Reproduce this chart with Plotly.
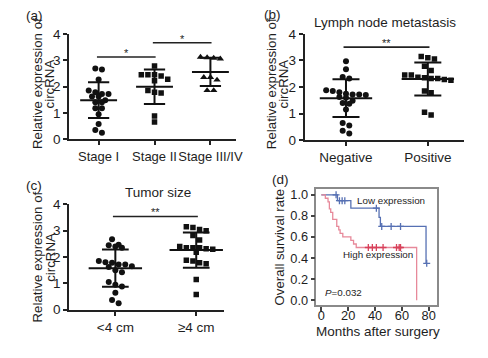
import numpy as np
import plotly.graph_objects as go

# ---------------- data ----------------
# (a) circRNA expression by clinical stage
stage_labels = ["Stage I", "Stage II", "Stage III/IV"]
stage_i = [2.65, 2.68, 2.27, 1.85, 1.78, 1.72, 1.72, 1.62, 1.62, 1.48, 1.40, 1.40,
           1.18, 1.18, 0.95, 0.58, 0.35, 0.25]
stage_ii = [2.78, 2.45, 2.40, 2.45, 2.45, 2.22, 2.28, 1.78, 1.75, 1.85, 0.88, 0.65]
stage_iii_iv = [3.10, 3.05, 3.08, 3.12, 2.35, 2.35, 2.25, 1.85, 1.85]
sig_a = [(0, 1, 3.12, "*"), (1, 2, 3.66, "*")]

# (b) lymph node metastasis
lymph_labels = ["Negative", "Positive"]
lymph_neg = [2.97, 2.67, 2.32, 2.38, 1.85, 1.75, 1.72, 1.70, 1.72, 1.80, 1.88, 1.60,
             1.62, 1.40, 1.37, 1.48, 1.15, 0.65, 0.55, 0.35, 0.25]
lymph_pos = [3.15, 3.05, 3.10, 2.78, 2.62, 2.45, 2.35, 2.32, 2.25, 2.28, 2.32, 2.37,
             2.45, 1.85, 1.78, 0.95, 1.05]
sig_b = [(0, 1, 3.5, "**")]

# (c) tumor size
size_labels = ["<4 cm", "\u22654 cm"]
size_small = [2.68, 2.47, 2.40, 2.35, 2.45, 1.80, 1.72, 1.65, 1.62, 1.72, 1.78, 1.85,
              1.42, 1.50, 0.95, 1.05, 0.88, 0.65, 0.37, 0.25]
size_large = [3.15, 3.05, 3.00, 3.12, 2.82, 2.65, 2.40, 2.35, 2.30, 2.32, 2.35, 2.35,
              2.18, 1.85, 1.75, 1.78, 1.88, 1.15, 0.58]
sig_c = [(0, 1, 3.54, "**")]

# (d) Kaplan-Meier overall survival
low_times = [0, 12, 22, 43, 44, 78]
low_surv = [1.0, 0.944, 0.873, 0.786, 0.70, 0.35]
low_censor = [11, 13.5, 15.5, 17.5, 41, 45, 52, 59, 78.5]
high_times = [0, 3, 5, 6, 7, 8.5, 11.5, 13, 14, 16, 22, 24, 26, 71]
high_surv = [1.0, 0.967, 0.933, 0.867, 0.833, 0.767, 0.70, 0.667, 0.633, 0.60,
             0.567, 0.533, 0.50, 0.0]
high_censor = [35, 38, 41, 46, 56, 58, 59]
p_text = "<i>P</i>=0.032"

# ---------------- styling ----------------
W, H = 488, 358
FONT = "Liberation Sans, Arial, sans-serif"
TXT = "#1e1e1e"
INK = "#111111"
BLUE = "#5670b3"
RED_LINE = "#e7899a"
RED_MARK = "#d8405a"


def px_x(p):
    return p / W


def px_y(p):
    return 1 - p / H


panels = {
    "a": dict(dx=(70, 239), dy=(28, 138), rx=(-0.53, 2.45), mean_hw=0.33, cap_hw=0.19),
    "b": dict(dx=(309, 471), dy=(28, 139), rx=(-0.506, 1.445), mean_hw=0.32, cap_hw=0.165),
    "c": dict(dx=(70, 227), dy=(206, 316), rx=(-0.573, 1.34), mean_hw=0.33, cap_hw=0.165),
}


def swarm(values, center, step, thr=0.21):
    vals = np.sort(np.asarray(values, dtype=float))[::-1]
    xs, ys = [], []
    i = 0
    while i < len(vals):
        j = i
        while j < len(vals) and vals[i] - vals[j] < thr:
            j += 1
        n = j - i
        for k in range(n):
            xs.append(center + (k - (n - 1) / 2) * step)
            ys.append(vals[i + k])
        i = j
    return xs, ys


fig = go.Figure()


def dot_panel(key, groups, symbols, sizes, xa, ya):
    p = panels[key]
    ppu = (p["dx"][1] - p["dx"][0]) / (p["rx"][1] - p["rx"][0])
    step = 6.7 / ppu
    for gi, (vals, sym, sz) in enumerate(zip(groups, symbols, sizes)):
        xs, ys = swarm(vals, gi, step)
        fig.add_trace(go.Scatter(
            x=xs, y=ys, mode="markers", xaxis=xa, yaxis=ya,
            marker=dict(symbol=sym, size=sz, color=INK, line=dict(width=0)),
            showlegend=False, hoverinfo="skip"))
        m = float(np.mean(vals))
        s = float(np.std(vals, ddof=1))
        mh, ch = p["mean_hw"], p["cap_hw"]
        lx = [gi - mh, gi + mh, None, gi, gi, None, gi - ch, gi + ch, None, gi - ch, gi + ch]
        ly = [m, m, None, m - s, m + s, None, m + s, m + s, None, m - s, m - s]
        fig.add_trace(go.Scatter(
            x=lx, y=ly, mode="lines", xaxis=xa, yaxis=ya,
            line=dict(color=INK, width=2), showlegend=False, hoverinfo="skip"))


dot_panel("a", [stage_i, stage_ii, stage_iii_iv], ["circle", "square", "triangle-up"],
          [6, 5.5, 6.5], "x", "y")
dot_panel("b", [lymph_neg, lymph_pos], ["circle", "square"], [6, 5.5], "x2", "y2")
dot_panel("c", [size_small, size_large], ["circle", "square"], [6, 5.5], "x3", "y3")

annotations = []
shapes = []


def add_sig(sigs, xref, yref):
    for (i, j, yv, star) in sigs:
        shapes.append(dict(type="line", xref=xref, yref=yref, x0=i - 0.03, x1=j + 0.02,
                           y0=yv, y1=yv, line=dict(color="#222", width=1.6)))
        annotations.append(dict(text=star, x=(i + j) / 2, y=yv, xref=xref, yref=yref,
                                showarrow=False, yanchor="bottom", yshift=-4,
                                font=dict(size=11, color=TXT, family=FONT)))


add_sig(sig_a, "x", "y")
add_sig(sig_b, "x2", "y2")
add_sig(sig_c, "x3", "y3")


# survival panel
def step_surv(times, surv, t):
    idx = np.searchsorted(np.asarray(times, dtype=float), t, side="right") - 1
    return [surv[k] for k in idx]


low_x = low_times + [max(low_censor)]
low_y = low_surv + [low_surv[-1]]
fig.add_trace(go.Scatter(x=low_x, y=low_y, mode="lines", line=dict(shape="hv", color=BLUE, width=1.3),
                         xaxis="x4", yaxis="y4", showlegend=False, hoverinfo="skip"))
fig.add_trace(go.Scatter(x=low_censor, y=step_surv(low_times, low_surv, np.array(low_censor)),
                         mode="markers", xaxis="x4", yaxis="y4", showlegend=False, hoverinfo="skip",
                         marker=dict(symbol="cross-thin", size=5, line=dict(width=1.3, color=BLUE))))
fig.add_trace(go.Scatter(x=high_times, y=high_surv, mode="lines",
                         line=dict(shape="hv", color=RED_LINE, width=1.3),
                         xaxis="x4", yaxis="y4", showlegend=False, hoverinfo="skip"))
fig.add_trace(go.Scatter(x=high_censor, y=step_surv(high_times, high_surv, np.array(high_censor)),
                         mode="markers", xaxis="x4", yaxis="y4", showlegend=False, hoverinfo="skip",
                         marker=dict(symbol="cross-thin", size=5, line=dict(width=1.3, color=RED_MARK))))

# ---------------- axes ----------------
common = dict(showline=True, linecolor="#222", linewidth=1.5, ticks="outside", ticklen=4,
              tickwidth=1.5, tickcolor="#222", showgrid=False, zeroline=False, tickangle=0,
              tickfont=dict(size=13.5, color=TXT, family=FONT), fixedrange=True)


def cat_x(key, labels, anchor, size=13.5):
    p = panels[key]
    d = dict(common)
    d["tickfont"] = dict(size=size, color=TXT, family=FONT)
    return dict(domain=[px_x(p["dx"][0]), px_x(p["dx"][1])], range=list(p["rx"]),
                tickvals=list(range(len(labels))), ticktext=labels, anchor=anchor, **d)


def val_y(key, anchor):
    p = panels[key]
    return dict(domain=[px_y(p["dy"][1]), px_y(p["dy"][0])], range=[0, 4],
                tickvals=[0, 1, 2, 3, 4], anchor=anchor, **common)


d_common = dict(common)
d_common.update(linecolor="#8a8a8a", mirror=True, tickcolor="#444",
                tickfont=dict(size=12.8, color=TXT, family=FONT))

layout = dict(
    width=W, height=H, margin=dict(l=0, r=0, t=0, b=0),
    paper_bgcolor="white", plot_bgcolor="white",
    font=dict(family=FONT, color=TXT),
    xaxis=cat_x("a", stage_labels, "y", 13), yaxis=val_y("a", "x"),
    xaxis2=cat_x("b", lymph_labels, "y2"), yaxis2=val_y("b", "x2"),
    xaxis3=cat_x("c", size_labels, "y3"), yaxis3=val_y("c", "x3"),
    xaxis4=dict(domain=[px_x(321), px_x(443)], range=[-3.67, 85.9], tickvals=[0, 20, 40, 60, 80],
                anchor="y4", ticklabelstandoff=-6, **d_common),
    yaxis4=dict(domain=[px_y(311), px_y(190)], range=[-0.0455, 1.0545],
                tickvals=[0, 0.2, 0.4, 0.6, 0.8, 1.0], tickformat=".1f", anchor="x4", **d_common),
)


def text(t, x, y, size, angle=0, xanchor="center"):
    annotations.append(dict(text=t, x=px_x(x), y=px_y(y), xref="paper", yref="paper",
                            showarrow=False, xanchor=xanchor, yanchor="middle", textangle=angle,
                            font=dict(size=size, color=TXT, family=FONT)))


# panel letters
text("(a)", 35, 8.5, 13.5)
text("(b)", 276, 7.5, 13.5)
text("(c)", 35, 186, 13.5)
text("(d)", 285, 180, 13.5)
# titles
text("Lymph node metastasis", 391, 16, 13.5)
text("Tumor size", 160, 193.5, 13.5)
# y-axis titles
for (x1, x2, yc) in [(38, 50.5, 80), (275.5, 288, 80), (38, 50.5, 261)]:
    text("Relative expression of", x1, yc, 13.3, angle=-90)
    text("circRNA", x2, yc, 13.3, angle=-90)
# survival panel texts
text("Overall survival rate", 284, 250, 13.2, angle=-90)
text("Months after surgery", 383, 338.5, 13.5)
text("Low expression", 397, 202, 9.8)
text("High expression", 384, 258, 9.8)
text(p_text, 348, 297.5, 9.8)

layout["annotations"] = annotations
layout["shapes"] = shapes
fig.update_layout(**layout)
fig.write_html("out.html", config={"displayModeBar": False},
               post_script="document.body.style.margin='0';document.body.style.overflow='hidden';")
